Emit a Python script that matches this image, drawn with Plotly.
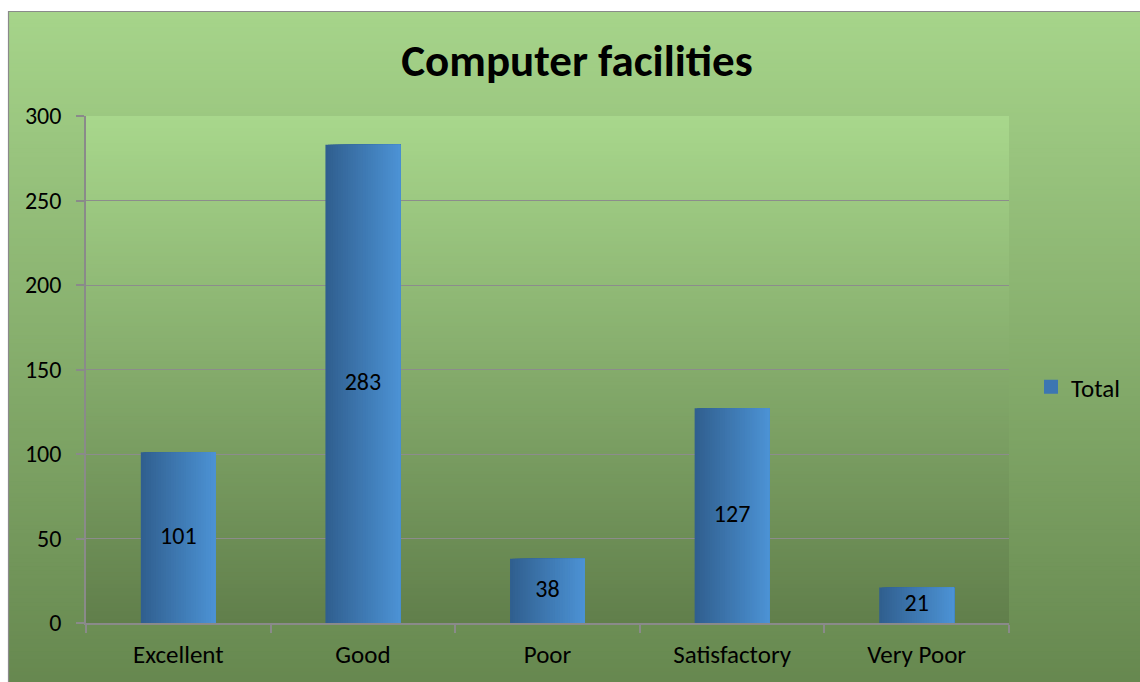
import plotly.graph_objects as go

# Survey responses on computer facilities
categories = ["Excellent", "Good", "Poor", "Satisfactory", "Very Poor"]
totals = [101, 283, 38, 127, 21]
y_ticks = [0, 50, 100, 150, 200, 250, 300]

W, H = 1140, 682
L, R, T, B = 86, 131, 116, 59
PW, PH = W - L - R, H - T - B

FONT = "Carlito, Lato, Calibri, sans-serif"


def lerp(c1, c2, t):
    return "rgb(%d,%d,%d)" % tuple(round(a + (b - a) * t) for a, b in zip(c1, c2))


def px_to_paper(x, y):
    return (x - L) / PW, (H - B - y) / PH


fig = go.Figure()
shapes = []

# Chart-area vertical gradient: each band runs to the bottom so no seams show
top_c, bot_c = (166, 212, 138), (101, 134, 78)
y0, y1 = 11, 700
n = 170
xa, _ = px_to_paper(8, 0)
xb, _ = px_to_paper(1180, 0)
_, ybot = px_to_paper(0, y1)
for i in range(n):
    a = y0 + (y1 - y0) * i / n
    _, ya = px_to_paper(0, a)
    shapes.append(dict(type="rect", xref="paper", yref="paper", x0=xa, x1=xb,
                       y0=ybot, y1=ya, line_width=0, layer="below",
                       fillcolor=lerp(top_c, bot_c, i / (n - 1))))

# Plot-area gradient
ptop, pbot = (168, 215, 140), (97, 127, 75)
m = 130
for i in range(m):
    shapes.append(dict(type="rect", xref="paper", yref="paper", x0=0, x1=1,
                       y0=0, y1=1 - i / m, line_width=0,
                       layer="below", fillcolor=lerp(ptop, pbot, i / (m - 1))))

# Chart-area border
bx0, by0 = px_to_paper(8.5, 11.5)
bx1, by1 = px_to_paper(1180, 700)
shapes.append(dict(type="rect", xref="paper", yref="paper", x0=bx0, x1=bx1,
                   y0=by1, y1=by0, line=dict(color="#8a8a8a", width=1.2),
                   fillcolor="rgba(0,0,0,0)", layer="above"))

# Bars drawn as overlapping strips (each reaching the right edge) for shading
bar_w = 0.406
strips = 30
left_c, right_c = (48, 95, 143), (76, 146, 212)
sw = bar_w / strips
for i in range(strips):
    fig.add_trace(go.Bar(
        x=categories, y=totals, width=bar_w - i * sw, offset=-bar_w / 2 + i * sw,
        marker=dict(color=lerp(left_c, right_c, i / (strips - 1)), line_width=0),
        showlegend=False, hoverinfo="skip",
    ))

# Legend entry
fig.add_trace(go.Scatter(x=[None], y=[None], name="Total", mode="markers",
                         marker=dict(symbol="square", size=14,
                                     color="rgb(60,118,178)"),
                         showlegend=True))

# Value labels centred in each bar
fig.add_trace(go.Scatter(
    x=categories, y=[v / 2 for v in totals], mode="text",
    text=[str(v) for v in totals],
    textfont=dict(family=FONT, size=24, color="#000000"),
    showlegend=False, hoverinfo="skip",
))

fig.update_layout(
    width=W, height=H,
    margin=dict(l=L, r=R, t=T, b=B),
    paper_bgcolor="#ffffff", plot_bgcolor="rgba(0,0,0,0)",
    barmode="overlay",
    shapes=shapes,
    title=dict(text="<b>Computer facilities</b>", x=577 / W, xanchor="center",
               xref="container", y=1 - 60 / H, yanchor="middle",
               font=dict(family=FONT, size=45, color="#000000")),
    font=dict(family=FONT, size=24, color="#000000"),
    legend=dict(x=(1031 - L) / PW, xanchor="left", y=(H - B - 387) / PH,
                yanchor="middle", bgcolor="rgba(0,0,0,0)",
                font=dict(family=FONT, size=25, color="#000000"),
                itemwidth=30),
    xaxis=dict(showgrid=False, showline=True, linecolor="#8a8a8a", linewidth=1.5,
               ticks="outside", tickson="boundaries", ticklen=8,
               tickcolor="#8a8a8a", tickwidth=1.5,
               tickfont=dict(family=FONT, size=25, color="#000000"),
               ticklabelstandoff=8),
    yaxis=dict(range=[0, 300], tickvals=y_ticks, showgrid=True,
               gridcolor="#8c8c8c", gridwidth=1.2, zeroline=False,
               showline=True, linecolor="#8a8a8a", linewidth=1.5,
               ticks="outside", ticklen=8, tickcolor="#8a8a8a", tickwidth=1.5,
               tickfont=dict(family=FONT, size=24, color="#000000"),
               ticklabelstandoff=10),
)

fig.write_html("out.html")
